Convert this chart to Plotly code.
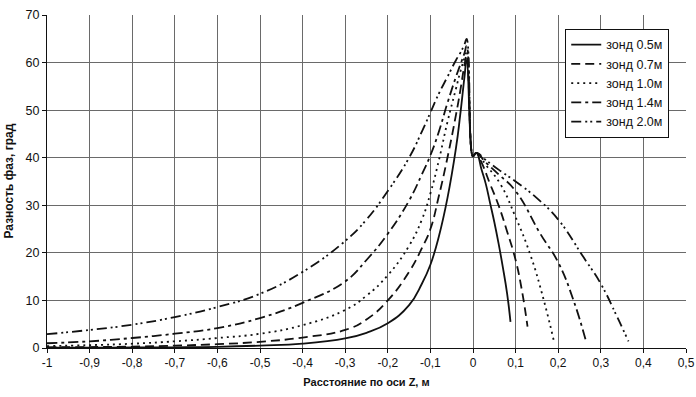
import plotly.graph_objects as go

# ---- data ----
probe_names = ["зонд 0.5м", "зонд 0.7м", "зонд 1.0м", "зонд 1.4м", "зонд 2.0м"]

z_left = [-1.0, -0.9, -0.8, -0.7, -0.6, -0.5, -0.4, -0.3, -0.25, -0.2,
          -0.15, -0.12, -0.1, -0.08, -0.06, -0.04, -0.03, -0.02, -0.015, -0.003]

phase_left_05 = [0.05, 0.07, 0.1, 0.15, 0.25, 0.5, 0.9, 2.0, 3.2, 5.2,
                 9.0, 13.5, 17.5, 23.5, 31.5, 42.0, 49.0, 57.0, 60.5, 41.0]
phase_left_07 = [0.15, 0.2, 0.3, 0.5, 0.8, 1.3, 2.2, 3.8, 6.0, 10.0,
                 16.0, 21.0, 25.0, 32.0, 40.0, 49.0, 54.0, 59.5, 61.5, 41.0]
phase_left_10 = [0.4, 0.6, 0.9, 1.4, 2.1, 3.0, 4.8, 8.0, 11.0, 15.3,
                 21.5, 27.0, 32.5, 39.5, 47.5, 54.5, 58.0, 61.0, 62.5, 41.0]
phase_left_14 = [1.0, 1.4, 2.1, 3.0, 4.2, 6.3, 9.5, 14.0, 18.5, 24.0,
                 31.0, 36.5, 40.5, 45.5, 51.5, 57.0, 59.5, 62.0, 63.5, 41.0]
phase_left_20 = [2.9, 3.8, 4.9, 6.5, 8.6, 11.4, 16.0, 22.5, 27.0, 33.0,
                 40.0, 45.5, 49.5, 53.5, 57.0, 60.5, 62.0, 63.8, 65.0, 41.0]

z_right_05 = [0.0, 0.008, 0.02, 0.03, 0.04, 0.05, 0.06, 0.07, 0.08, 0.088]
phase_right_05 = [40.3, 41.0, 37.5, 34.5, 30.5, 26.5, 22.0, 17.0, 11.5, 5.5]
z_right_07 = [0.0, 0.008, 0.02, 0.04, 0.06, 0.08, 0.1, 0.115, 0.128]
phase_right_07 = [40.3, 41.0, 39.0, 34.5, 30.0, 24.5, 18.5, 12.0, 4.5]
z_right_10 = [0.0, 0.008, 0.03, 0.064, 0.1, 0.135, 0.166, 0.19]
phase_right_10 = [40.3, 41.0, 38.5, 34.5, 27.5, 19.5, 10.1, 1.4]
z_right_14 = [0.0, 0.008, 0.03, 0.06, 0.1, 0.158, 0.2, 0.236, 0.265]
phase_right_14 = [40.3, 41.0, 39.0, 36.5, 33.0, 24.0, 18.0, 10.0, 1.5]
z_right_20 = [0.0, 0.008, 0.03, 0.06, 0.1, 0.15, 0.2, 0.26, 0.3, 0.338, 0.365]
phase_right_20 = [40.3, 41.0, 39.5, 37.5, 35.0, 31.5, 27.0, 19.0, 13.5, 6.6, 1.4]

x_tick_vals = [-1.0, -0.9, -0.8, -0.7, -0.6, -0.5, -0.4, -0.3, -0.2, -0.1,
               0.0, 0.1, 0.2, 0.3, 0.4, 0.5]
x_tick_text = ["-1", "-0,9", "-0,8", "-0,7", "-0,6", "-0,5", "-0,4", "-0,3",
               "-0,2", "-0,1", "0", "0,1", "0,2", "0,3", "0,4", "0,5"]
y_tick_vals = [0, 10, 20, 30, 40, 50, 60, 70]

# ---- figure ----
lefts = [phase_left_05, phase_left_07, phase_left_10, phase_left_14, phase_left_20]
rights_z = [z_right_05, z_right_07, z_right_10, z_right_14, z_right_20]
rights_p = [phase_right_05, phase_right_07, phase_right_10, phase_right_14, phase_right_20]
dashes = ["solid", "9px,5px", "2px,4px", "10px,4px,3px,4px", "10px,4px,2px,3px,2px,4px"]

fig = go.Figure()
for name, pl, zr, pr, d in zip(probe_names, lefts, rights_z, rights_p, dashes):
    fig.add_trace(go.Scatter(
        x=z_left + zr, y=pl + pr, mode="lines", name=name,
        line=dict(color="#111111", width=1.8, dash=d, shape="spline", smoothing=1.3),
    ))

font_family = "Liberation Sans, Arial, sans-serif"
fig.update_layout(
    width=696, height=397,
    margin=dict(l=47, r=10, t=15, b=49, autoexpand=False),
    paper_bgcolor="white", plot_bgcolor="white",
    font=dict(family=font_family, size=12, color="#111111"),
    showlegend=True,
    legend=dict(x=0.811, y=0.958, xanchor="left", yanchor="top",
                bgcolor="white", bordercolor="#111111", borderwidth=1,
                font=dict(size=12.5), tracegroupgap=0),
    xaxis=dict(range=[-1.0, 0.5], tickvals=x_tick_vals, ticktext=x_tick_text,
               automargin=False,
               showgrid=True, gridcolor="#6a6a6a", gridwidth=1,
               zeroline=False, showline=True, linecolor="#111111",
               ticks="outside", ticklen=4, tickcolor="#111111",
               tickfont=dict(size=12),
               title=dict(text="<b>Расстояние по оси Z, м</b>", standoff=8,
                          font=dict(size=11))),
    yaxis=dict(range=[0, 70], tickvals=y_tick_vals, automargin=False,
               showgrid=True, gridcolor="#6a6a6a", gridwidth=1,
               zeroline=False, showline=True, linecolor="#111111",
               ticks="outside", ticklen=4, tickcolor="#111111",
               tickfont=dict(size=12.5)),
    annotations=[dict(text="<b>Разность фаз, град</b>", textangle=-90,
                      xref="paper", yref="paper", x=-0.061, y=0.5,
                      xanchor="center", yanchor="middle", showarrow=False,
                      font=dict(size=12))],
)

fig.write_html("out.html", config={"displayModeBar": False},
               post_script="document.body.style.margin='0px';")
